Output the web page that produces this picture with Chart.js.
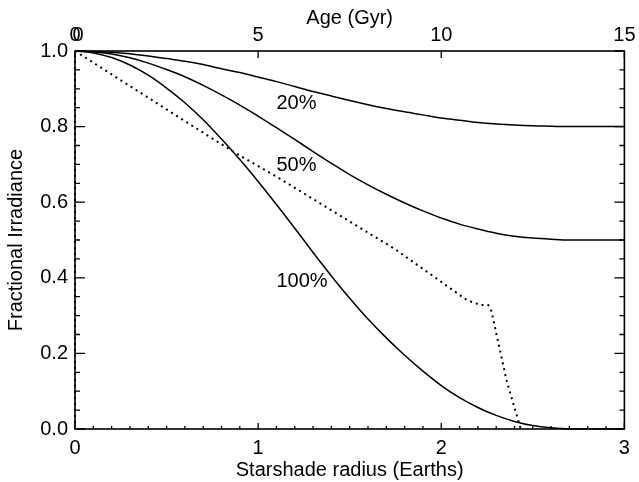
<!DOCTYPE html>
<html>
<head>
<meta charset="utf-8">
<script src="https://cdn.jsdelivr.net/npm/chart.js@4.4.1/dist/chart.umd.min.js"></script>
<style>
  body { margin: 0; background: #fff; }
  canvas { display: block; }
</style>
</head>
<body>
<canvas id="irradianceChart" width="639" height="482"></canvas>
<script>
// Starshade radius in Earth radii, every 0.1
const radius = [0, 0.1, 0.2, 0.3, 0.4, 0.5, 0.6, 0.7, 0.8, 0.9, 1.0,
    1.1, 1.2, 1.3, 1.4, 1.5, 1.6, 1.7, 1.8, 1.9, 2.0,
    2.1, 2.2, 2.3, 2.4, 2.5, 2.6, 2.7, 2.8, 2.9, 3.0];

// Fractional irradiance for 20%, 50% and 100% shading
const irradiance20 = [1.000, 0.999, 0.997, 0.993, 0.987, 0.980, 0.973, 0.964, 0.953, 0.943, 0.931,
    0.919, 0.906, 0.893, 0.881, 0.869, 0.858, 0.848, 0.839, 0.831, 0.823,
    0.817, 0.811, 0.807, 0.804, 0.802, 0.801, 0.800, 0.800, 0.800, 0.800];
const irradiance50 = [1.000, 0.998, 0.992, 0.982, 0.968, 0.951, 0.932, 0.909, 0.884, 0.857, 0.828,
    0.797, 0.766, 0.734, 0.703, 0.673, 0.646, 0.621, 0.598, 0.577, 0.558,
    0.542, 0.529, 0.518, 0.510, 0.505, 0.502, 0.500, 0.500, 0.500, 0.500];
const irradiance100 = [1.000, 0.995, 0.983, 0.963, 0.936, 0.902, 0.863, 0.818, 0.767, 0.713, 0.655,
    0.594, 0.531, 0.467, 0.405, 0.346, 0.291, 0.241, 0.195, 0.153, 0.115,
    0.083, 0.057, 0.036, 0.020, 0.009, 0.003, 0.000, 0.000, 0.000, 0.000];

// Dotted track, plotted against age on the top axis
const ageGyr = [0, 0, 3.3, 4.4, 5.58, 7.13, 8.75, 9.8, 10.7, 11.07, 11.28, 11.37, 11.78, 12.17];
const ageIrradiance = [0, 1, 0.796, 0.729, 0.663, 0.571, 0.475, 0.403, 0.341, 0.328, 0.328, 0.312, 0.130, 0.0];

const curveLabels = ['20%', '50%', '100%'];
const radiusTicks = [0, 1, 2, 3];
const ageTicks = [0, 5, 10, 15];
const irradianceTicks = [0, 0.2, 0.4, 0.6, 0.8, 1.0];

const FONT = '"Liberation Sans", Arial, sans-serif';
Chart.defaults.font.family = FONT;
Chart.defaults.font.size = 20;
Chart.defaults.color = '#000';

const toPoints = (xs, ys) => xs.map((x, i) => ({ x: x, y: ys[i] }));

// Inward IDL-style ticks and the box around the plot
const frameTicks = {
    id: 'frameTicks',
    afterDatasetsDraw(chart) {
        const { ctx, chartArea: a, scales } = chart;
        ctx.save();
        ctx.strokeStyle = '#000';
        ctx.lineWidth = 1.6;
        ctx.strokeRect(a.left, a.top, a.right - a.left, a.bottom - a.top);

        ctx.lineWidth = 1.3;
        ctx.beginPath();
        for (let i = 0; i <= 30; i++) {
            const px = scales.x.getPixelForValue(i / 10);
            const len = i % 10 === 0 ? 6 : 3;
            ctx.moveTo(px, a.bottom);
            ctx.lineTo(px, a.bottom - len);
        }
        ageTicks.forEach(v => {
            const px = scales.x2.getPixelForValue(v);
            ctx.moveTo(px, a.top);
            ctx.lineTo(px, a.top + 7);
        });
        for (let i = 0; i <= 20; i++) {
            const py = scales.y.getPixelForValue(i * 0.05);
            const len = i % 4 === 0 ? 10 : 5;
            ctx.moveTo(a.left, py);
            ctx.lineTo(a.left + len, py);
            ctx.moveTo(a.right, py);
            ctx.lineTo(a.right - len, py);
        }
        ctx.stroke();

        // the top axis zero is printed twice, slightly offset
        ctx.font = '20px ' + FONT;
        ctx.fillStyle = '#000';
        ctx.textAlign = 'center';
        ctx.textBaseline = 'middle';
        ctx.fillText('0', scales.x2.getPixelForValue(0) + 3, a.top - 3.5 - 12);

        // curve labels
        const spots = [[1.1, 0.860], [1.1, 0.698], [1.1, 0.389]];
        ctx.textAlign = 'left';
        curveLabels.forEach((t, i) => {
            ctx.fillText(t, scales.x.getPixelForValue(spots[i][0]), scales.y.getPixelForValue(spots[i][1]));
        });
        ctx.restore();
    }
};

const solid = (data) => ({
    data: data,
    showLine: true,
    borderColor: '#000',
    borderWidth: 1.5,
    pointRadius: 0,
    cubicInterpolationMode: 'monotone',
    xAxisID: 'x',
    yAxisID: 'y',
    clip: 4
});

new Chart(document.getElementById('irradianceChart'), {
    type: 'scatter',
    data: {
        datasets: [
            solid(toPoints(radius, irradiance20)),
            solid(toPoints(radius, irradiance50)),
            solid(toPoints(radius, irradiance100)),
            {
                data: toPoints(ageGyr, ageIrradiance),
                showLine: true,
                borderColor: '#000',
                borderWidth: 2,
                borderDash: [2, 4],
                borderCapStyle: 'butt',
                pointRadius: 0,
                xAxisID: 'x2',
                yAxisID: 'y',
                clip: 4
            }
        ]
    },
    options: {
        responsive: false,
        animation: false,
        layout: { padding: 0 },
        plugins: {
            legend: { display: false },
            tooltip: { enabled: false }
        },
        scales: {
            x: {
                type: 'linear',
                axis: 'x',
                position: 'bottom',
                min: 0,
                max: 3,
                afterBuildTicks: s => { s.ticks = radiusTicks.map(v => ({ value: v })); },
                afterFit: s => { s.height = 53; },
                grid: { display: false, drawTicks: false },
                border: { display: false },
                ticks: { padding: 7, maxRotation: 0, autoSkip: false },
                title: { display: true, text: 'Starshade radius (Earths)', padding: { top: 0, bottom: 0 } }
            },
            x2: {
                type: 'linear',
                axis: 'x',
                position: 'top',
                min: 0,
                max: 15,
                afterBuildTicks: s => { s.ticks = ageTicks.map(v => ({ value: v })); },
                afterFit: s => { s.height = 51; },
                grid: { display: false, drawTicks: false },
                border: { display: false },
                ticks: { padding: 3.5, maxRotation: 0, autoSkip: false },
                title: { display: true, text: 'Age (Gyr)', padding: { top: 6.5, bottom: 0 } }
            },
            y: {
                type: 'linear',
                axis: 'y',
                position: 'left',
                min: 0,
                max: 1,
                afterBuildTicks: s => { s.ticks = irradianceTicks.map(v => ({ value: v })); },
                afterFit: s => { s.width = 75; },
                grid: { display: false, drawTicks: false },
                border: { display: false },
                ticks: { padding: 7, callback: v => v.toFixed(1) },
                title: { display: true, text: 'Fractional Irradiance', padding: { top: 4, bottom: 0 } }
            },
            y2: {
                type: 'linear',
                axis: 'y',
                position: 'right',
                min: 0,
                max: 1,
                afterFit: s => { s.width = 13; },
                grid: { display: false, drawTicks: false },
                border: { display: false },
                ticks: { display: false }
            }
        }
    },
    plugins: [frameTicks]
});
</script>
</body>
</html>
